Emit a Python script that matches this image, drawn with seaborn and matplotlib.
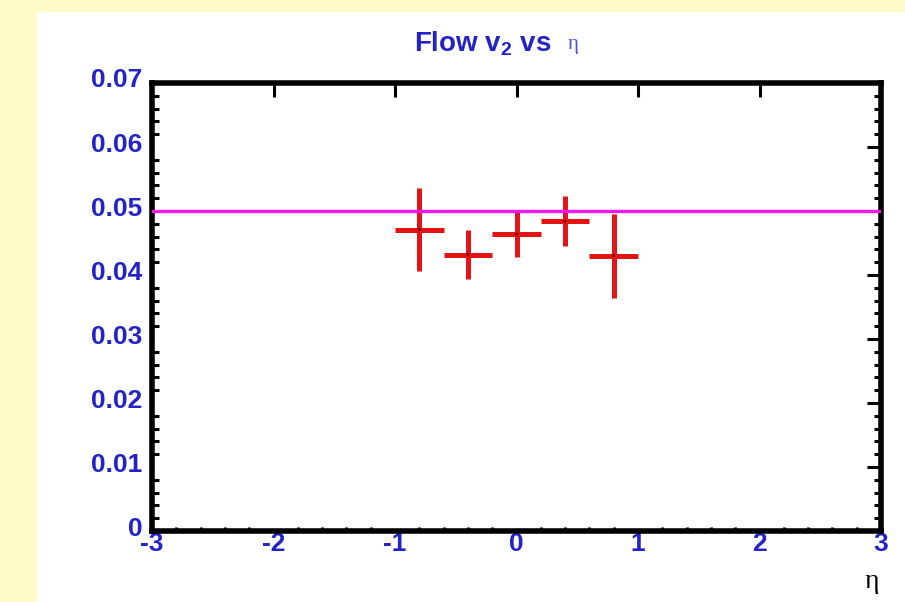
import numpy as np
import pandas as pd
import matplotlib
matplotlib.use('Agg')
import matplotlib.pyplot as plt
from matplotlib.patches import Rectangle
from matplotlib.ticker import MultipleLocator
from matplotlib.transforms import ScaledTranslation
import seaborn as sns

# data
eta = [-0.8, -0.4, 0.0, 0.4, 0.8]
v2 = [0.0471, 0.0432, 0.0464, 0.0484, 0.0430]
v2_err = [0.0065, 0.0039, 0.0036, 0.0039, 0.0066]
eta_err = [0.2, 0.2, 0.2, 0.2, 0.2]
v2_ref = 0.05
x_ticks = [-3, -2, -1, 0, 1, 2, 3]
y_ticks = [0, 0.01, 0.02, 0.03, 0.04, 0.05, 0.06, 0.07]
y_tick_labels = ['0', '0.01', '0.02', '0.03', '0.04', '0.05', '0.06', '0.07']

df = pd.DataFrame({'eta': eta, 'v2': v2})

sns.set_style('white')
plt.rcParams['font.family'] = ['Liberation Sans', 'DejaVu Sans']
plt.rcParams['mathtext.fontset'] = 'custom'
plt.rcParams['mathtext.bf'] = 'Liberation Sans:bold'

blue = '#2323c8'
fig = plt.figure(figsize=(9.05, 6.02), dpi=100)
fig.patch.set_facecolor('#fffac8')
fig.patches.append(Rectangle((37 / 905, 0), 1, 1 - 12 / 602, transform=fig.transFigure,
                             facecolor='white', edgecolor='none', zorder=-10))

ax = fig.add_axes([152 / 905, 1 - 531 / 602, (881 - 152) / 905, (531 - 83) / 602])
ax.set_facecolor('white')

ax.errorbar(eta, v2, xerr=eta_err, yerr=v2_err, fmt='none', ecolor='#e41414',
            elinewidth=3.6, capsize=0, zorder=3)
sns.scatterplot(data=df, x='eta', y='v2', ax=ax, color='#600000', s=4,
                edgecolor='none', zorder=4, legend=False)
ax.axhline(v2_ref, color='#f016f0', lw=2.4, zorder=5)

ax.set_xlim(-3, 3)
ax.set_ylim(0, 0.07)
ax.set_xticks(x_ticks)
ax.set_xticklabels([str(t) for t in x_ticks])
ax.set_yticks(y_ticks)
ax.set_yticklabels(y_tick_labels)
ax.xaxis.set_minor_locator(MultipleLocator(0.2))
ax.yaxis.set_minor_locator(MultipleLocator(0.002))
ax.set_xlabel('')
ax.set_ylabel('')

for s in ax.spines.values():
    s.set_visible(True)
    s.set_linewidth(4)
    s.set_color('black')

ax.tick_params(axis='both', which='major', direction='in', length=10, width=2.2,
               colors='black', labelcolor=blue, labelsize=19,
               top=True, right=True)
ax.tick_params(axis='y', which='major', pad=7)
ax.tick_params(axis='x', which='major', pad=1)
ax.tick_params(axis='y', which='minor', direction='in', length=5, width=2.2,
               left=True, right=True, colors='black')
ax.tick_params(axis='x', which='minor', direction='in', length=3, width=2.2,
               bottom=True, top=False, colors='black')
for lab in ax.get_xticklabels() + ax.get_yticklabels():
    lab.set_fontweight('bold')

# y labels sit a little above their ticks in the reference
shift = ScaledTranslation(0, 5 / 100, fig.dpi_scale_trans)
for t in ax.yaxis.get_major_ticks():
    t.label1.set_transform(t.label1.get_transform() + shift)

# title and axis label
fig.text(414 / 905, 1 - 44 / 602, r'Flow v$_{\mathbf{2}}$ vs', color=blue,
         fontsize=20, fontweight='bold', ha='left', va='center')
fig.text(573 / 905, 1 - 45 / 602, 'η', color='#5050d0', fontsize=15,
         ha='center', va='center', family=['Liberation Serif', 'DejaVu Sans'])
fig.text(872 / 905, 1 - 582 / 602, 'η', color='black', fontsize=20,
         ha='center', va='center', family=['Liberation Serif', 'DejaVu Sans'])

fig.savefig('out.png', dpi=100)
